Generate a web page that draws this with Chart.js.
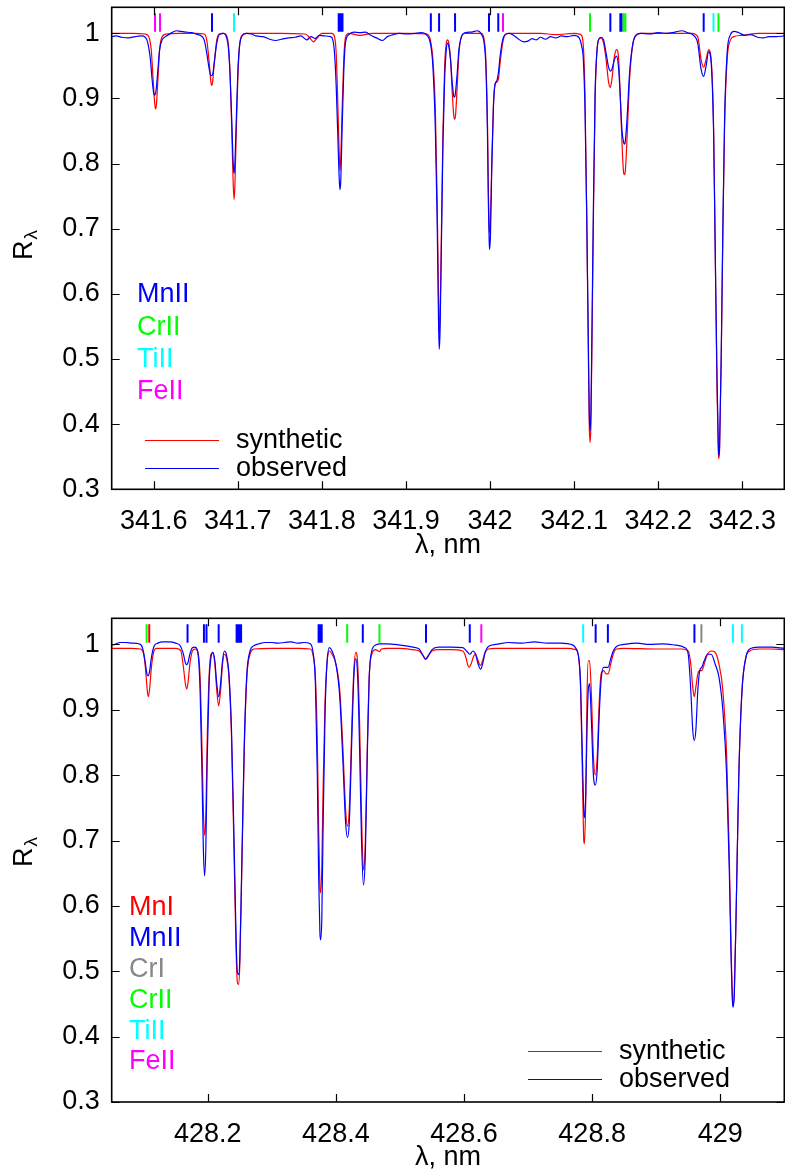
<!DOCTYPE html>
<html><head><meta charset="utf-8">
<script src="https://cdn.jsdelivr.net/npm/chart.js@4.4.1/dist/chart.umd.min.js"></script>
<style>
html,body{margin:0;padding:0;background:#fff;width:785px;height:1173px;overflow:hidden}
canvas{position:absolute;left:0}
</style></head>
<body>
<canvas id="c1" width="785" height="580" style="top:0;width:785px;height:580px"></canvas>
<canvas id="c2" width="785" height="593" style="top:580px;width:785px;height:593px"></canvas>
<script>
// ---------------- DATA ----------------
const yTicks = [0.3, 0.4, 0.5, 0.6, 0.7, 0.8, 0.9, 1.0];
const topXTicks = [341.6, 341.7, 341.8, 341.9, 342.0, 342.1, 342.2, 342.3];
const botXTicks = [428.2, 428.4, 428.6, 428.8, 429.0];

// top panel: synthetic spectrum [lambda nm, R]
const topSynthetic = [
[341.550,1.000],[341.560,1.000],[341.575,1.000],[341.590,0.999],[341.594,0.995],[341.597,0.975],[341.599,0.935],
[341.601,0.895],[341.602,0.884],[341.603,0.888],[341.605,0.930],[341.607,0.975],[341.610,0.995],[341.615,0.999],
[341.630,1.000],[341.650,1.000],[341.660,0.999],[341.663,0.990],[341.666,0.955],[341.668,0.925],[341.669,0.920],
[341.670,0.925],[341.672,0.955],[341.675,0.990],[341.678,0.999],[341.683,1.000],[341.686,0.998],[341.689,0.980],
[341.691,0.930],[341.693,0.840],[341.6945,0.770],[341.6955,0.745],[341.6965,0.765],[341.698,0.840],[341.700,0.930],
[341.702,0.980],[341.705,0.997],[341.710,1.000],[341.750,1.000],[341.780,0.999],[341.785,0.994],[341.790,0.987],
[341.795,0.994],[341.800,1.000],[341.812,1.000],[341.815,0.995],[341.817,0.970],[341.819,0.890],[341.8205,0.820],
[341.8215,0.789],[341.8225,0.810],[341.824,0.880],[341.826,0.960],[341.828,0.993],[341.832,1.000],[341.845,0.997],
[341.860,1.000],[341.900,1.000],[341.925,0.999],[341.929,0.990],[341.932,0.960],[341.935,0.880],[341.937,0.750],
[341.9385,0.620],[341.9395,0.540],[341.9405,0.560],[341.942,0.680],[341.944,0.850],[341.946,0.950],[341.948,0.985],
[341.9495,0.990],[341.951,0.985],[341.953,0.960],[341.955,0.910],[341.957,0.872],[341.958,0.868],[341.959,0.875],
[341.961,0.920],[341.963,0.970],[341.966,0.995],[341.970,1.000],[341.990,1.000],[341.993,0.990],[341.995,0.960],
[341.997,0.860],[341.998,0.760],[341.999,0.700],[341.9995,0.694],[342.0005,0.710],[342.002,0.800],[342.004,0.890],
[342.006,0.922],[342.008,0.925],[342.010,0.930],[342.012,0.955],[342.015,0.985],[342.018,0.998],[342.022,1.000],
[342.060,1.000],[342.078,0.998],[342.100,1.000],[342.108,0.998],[342.111,0.980],[342.113,0.900],[342.115,0.720],
[342.117,0.500],[342.118,0.400],[342.119,0.372],[342.120,0.400],[342.121,0.500],[342.123,0.720],[342.125,0.900],
[342.127,0.970],[342.129,0.990],[342.132,0.993],[342.135,0.985],[342.138,0.960],[342.141,0.925],[342.143,0.917],
[342.145,0.930],[342.148,0.965],[342.1505,0.975],[342.153,0.960],[342.155,0.900],[342.157,0.830],[342.159,0.785],
[342.160,0.783],[342.161,0.790],[342.163,0.840],[342.166,0.930],[342.170,0.985],[342.175,0.999],[342.180,1.000],
[342.240,1.000],[342.247,0.995],[342.251,0.960],[342.254,0.948],[342.257,0.960],[342.260,0.975],[342.263,0.960],
[342.266,0.850],[342.268,0.650],[342.270,0.450],[342.2715,0.360],[342.272,0.347],[342.273,0.360],[342.275,0.500],
[342.277,0.700],[342.279,0.860],[342.282,0.960],[342.286,0.990],[342.290,0.995],[342.300,0.997],[342.320,1.000],
[342.350,1.000]
];
// top panel: observed spectrum
const topObserved = [
[341.550,0.995],[341.555,0.996],[341.562,0.994],[341.570,0.993],[341.578,0.995],[341.585,0.996],[341.590,0.994],
[341.593,0.985],[341.596,0.960],[341.598,0.930],[341.600,0.908],[341.6015,0.905],[341.603,0.915],[341.605,0.945],
[341.607,0.975],[341.610,0.990],[341.614,0.995],[341.620,1.000],[341.627,1.004],[341.632,1.003],[341.638,1.002],
[341.645,1.001],[341.650,0.999],[341.655,0.997],[341.660,0.990],[341.663,0.970],[341.666,0.945],[341.668,0.935],
[341.670,0.937],[341.672,0.955],[341.675,0.985],[341.678,0.998],[341.683,1.000],[341.686,0.996],[341.689,0.975],
[341.691,0.930],[341.693,0.860],[341.6945,0.800],[341.6955,0.785],[341.6965,0.800],[341.698,0.860],[341.700,0.940],
[341.702,0.980],[341.705,0.996],[341.710,1.000],[341.716,0.999],[341.722,0.996],[341.730,0.995],[341.738,0.991],
[341.745,0.989],[341.752,0.991],[341.760,0.993],[341.768,0.994],[341.775,0.996],[341.782,0.990],[341.787,0.995],
[341.792,0.992],[341.797,0.997],[341.803,0.996],[341.810,0.995],[341.813,0.990],[341.815,0.970],[341.817,0.920],
[341.819,0.840],[341.8205,0.780],[341.8215,0.760],[341.8225,0.775],[341.824,0.850],[341.826,0.940],[341.828,0.985],
[341.832,0.998],[341.838,1.002],[341.845,1.001],[341.852,1.002],[341.858,0.997],[341.865,0.993],[341.872,0.989],
[341.878,0.995],[341.885,0.998],[341.892,1.000],[341.900,0.999],[341.910,1.000],[341.918,1.001],[341.925,0.997],
[341.929,0.985],[341.932,0.950],[341.935,0.850],[341.937,0.720],[341.9385,0.580],[341.9395,0.515],[341.9405,0.540],
[341.942,0.660],[341.944,0.830],[341.946,0.930],[341.948,0.975],[341.9495,0.985],[341.951,0.980],[341.953,0.960],
[341.955,0.925],[341.957,0.903],[341.958,0.902],[341.959,0.910],[341.961,0.940],[341.963,0.975],[341.966,0.995],
[341.970,1.001],[341.978,1.002],[341.985,1.004],[341.990,0.998],[341.993,0.985],[341.995,0.950],[341.997,0.840],
[341.998,0.740],[341.999,0.680],[341.9995,0.668],[342.0005,0.690],[342.002,0.790],[342.004,0.885],[342.006,0.922],
[342.008,0.927],[342.010,0.940],[342.012,0.965],[342.015,0.990],[342.018,0.998],[342.022,1.000],[342.027,0.998],
[342.033,0.992],[342.040,0.987],[342.045,0.988],[342.050,0.992],[342.055,0.990],[342.060,0.994],[342.066,0.991],
[342.072,0.995],[342.078,0.993],[342.085,0.996],[342.092,0.995],[342.100,0.997],[342.106,0.993],[342.109,0.980],
[342.111,0.960],[342.113,0.880],[342.115,0.720],[342.117,0.520],[342.118,0.420],[342.119,0.390],[342.120,0.420],
[342.121,0.520],[342.123,0.740],[342.125,0.910],[342.127,0.970],[342.129,0.990],[342.132,0.994],[342.135,0.990],
[342.138,0.970],[342.141,0.948],[342.143,0.942],[342.145,0.945],[342.148,0.960],[342.1505,0.965],[342.153,0.945],
[342.155,0.900],[342.157,0.850],[342.159,0.832],[342.160,0.830],[342.161,0.835],[342.163,0.870],[342.166,0.940],
[342.170,0.985],[342.175,0.998],[342.180,1.000],[342.190,0.999],[342.200,1.001],[342.210,1.000],[342.220,1.002],
[342.228,1.004],[342.235,1.001],[342.242,0.997],[342.247,0.985],[342.251,0.945],[342.254,0.934],[342.257,0.950],
[342.260,0.972],[342.263,0.955],[342.266,0.840],[342.268,0.650],[342.270,0.470],[342.2715,0.370],[342.272,0.352],
[342.273,0.365],[342.275,0.510],[342.277,0.710],[342.279,0.870],[342.282,0.970],[342.286,0.998],[342.290,1.003],
[342.296,1.001],[342.303,0.997],[342.310,0.998],[342.318,0.994],[342.325,0.993],[342.332,0.995],[342.340,0.995],
[342.350,0.996]
];
// bottom panel: synthetic spectrum
const botSynthetic = [
[428.050,0.994],[428.080,0.994],[428.095,0.993],[428.100,0.985],[428.103,0.960],[428.105,0.935],[428.107,0.920],
[428.109,0.930],[428.112,0.965],[428.116,0.990],[428.120,0.994],[428.150,0.994],[428.158,0.990],[428.162,0.965],
[428.165,0.940],[428.167,0.932],[428.169,0.940],[428.172,0.970],[428.176,0.990],[428.180,0.993],[428.184,0.990],
[428.188,0.950],[428.191,0.840],[428.193,0.750],[428.195,0.708],[428.197,0.740],[428.199,0.850],[428.202,0.950],
[428.205,0.985],[428.208,0.987],[428.211,0.970],[428.214,0.930],[428.217,0.906],[428.220,0.930],[428.223,0.970],
[428.226,0.985],[428.229,0.980],[428.233,0.950],[428.237,0.860],[428.241,0.680],[428.244,0.540],[428.246,0.485],
[428.248,0.480],[428.250,0.510],[428.253,0.650],[428.257,0.840],[428.261,0.950],[428.266,0.985],[428.272,0.993],
[428.300,0.994],[428.340,0.994],[428.360,0.993],[428.364,0.985],[428.368,0.950],[428.371,0.850],[428.373,0.720],
[428.375,0.630],[428.376,0.620],[428.378,0.660],[428.380,0.780],[428.383,0.910],[428.386,0.970],[428.390,0.990],
[428.394,0.985],[428.400,0.970],[428.406,0.930],[428.411,0.840],[428.415,0.750],[428.418,0.722],[428.421,0.750],
[428.425,0.880],[428.428,0.960],[428.431,0.988],[428.434,0.970],[428.437,0.880],[428.440,0.740],[428.443,0.655],
[428.446,0.700],[428.449,0.840],[428.452,0.950],[428.456,0.985],[428.462,0.992],[428.466,0.990],[428.468,0.989],
[428.471,0.993],[428.480,0.994],[428.500,0.994],[428.520,0.992],[428.530,0.990],[428.536,0.983],[428.540,0.978],
[428.544,0.983],[428.550,0.990],[428.560,0.992],[428.580,0.992],[428.598,0.990],[428.603,0.980],[428.606,0.968],
[428.608,0.965],[428.611,0.970],[428.615,0.982],[428.618,0.985],[428.621,0.978],[428.624,0.970],[428.626,0.968],
[428.629,0.975],[428.633,0.988],[428.638,0.993],[428.650,0.994],[428.700,0.994],[428.760,0.994],[428.774,0.992],
[428.779,0.980],[428.782,0.930],[428.785,0.790],[428.787,0.700],[428.788,0.695],[428.790,0.760],[428.792,0.920],
[428.794,0.975],[428.796,0.975],[428.799,0.920],[428.802,0.830],[428.805,0.800],[428.808,0.830],[428.811,0.910],
[428.814,0.955],[428.818,0.960],[428.822,0.955],[428.825,0.955],[428.829,0.970],[428.833,0.985],[428.838,0.993],
[428.850,0.994],[428.900,0.993],[428.940,0.993],[428.950,0.990],[428.954,0.970],[428.957,0.935],[428.9595,0.920],
[428.962,0.935],[428.965,0.955],[428.968,0.960],[428.971,0.960],[428.975,0.970],[428.980,0.985],[428.986,0.990],
[428.992,0.988],[428.998,0.970],[429.004,0.930],[429.010,0.830],[429.014,0.680],[429.017,0.530],[429.019,0.460],
[429.020,0.448],[429.022,0.470],[429.025,0.600],[429.029,0.800],[429.034,0.930],[429.040,0.980],[429.046,0.990],
[429.060,0.993],[429.080,0.993],[429.100,0.992]
];
// bottom panel: observed spectrum
const botObserved = [
[428.050,0.999],[428.055,1.000],[428.063,1.003],[428.072,1.003],[428.082,1.002],[428.092,1.001],[428.098,0.995],
[428.102,0.975],[428.105,0.955],[428.107,0.952],[428.109,0.958],[428.112,0.980],[428.116,0.997],[428.122,1.002],
[428.130,1.004],[428.140,1.004],[428.150,1.002],[428.157,0.998],[428.162,0.985],[428.165,0.972],[428.167,0.969],
[428.169,0.972],[428.172,0.985],[428.176,0.995],[428.180,0.996],[428.184,0.990],[428.188,0.930],[428.191,0.800],
[428.193,0.690],[428.195,0.646],[428.197,0.690],[428.199,0.820],[428.202,0.940],[428.205,0.980],[428.208,0.988],
[428.211,0.975],[428.214,0.940],[428.217,0.920],[428.220,0.940],[428.223,0.975],[428.226,0.990],[428.229,0.985],
[428.233,0.955],[428.237,0.870],[428.241,0.700],[428.244,0.560],[428.246,0.500],[428.248,0.495],[428.250,0.520],
[428.253,0.660],[428.257,0.850],[428.261,0.955],[428.266,0.990],[428.272,0.998],[428.280,1.001],[428.290,1.003],
[428.300,1.003],[428.310,1.002],[428.320,1.003],[428.330,1.004],[428.340,1.002],[428.350,1.003],[428.360,1.001],
[428.364,0.990],[428.368,0.940],[428.371,0.800],[428.373,0.650],[428.375,0.560],[428.376,0.548],[428.378,0.580],
[428.380,0.720],[428.383,0.890],[428.386,0.970],[428.390,0.995],[428.394,0.990],[428.400,0.970],[428.406,0.920],
[428.411,0.820],[428.415,0.730],[428.418,0.705],[428.421,0.730],[428.425,0.860],[428.428,0.950],[428.431,0.978],
[428.434,0.950],[428.437,0.840],[428.440,0.700],[428.443,0.632],[428.446,0.680],[428.449,0.830],[428.452,0.950],
[428.456,0.990],[428.462,0.999],[428.470,1.001],[428.480,1.001],[428.500,0.999],[428.520,0.996],[428.530,0.993],
[428.536,0.983],[428.540,0.977],[428.544,0.982],[428.550,0.992],[428.560,0.996],[428.580,0.996],[428.598,0.995],
[428.604,0.990],[428.609,0.985],[428.614,0.990],[428.618,0.985],[428.622,0.970],[428.626,0.962],[428.629,0.970],
[428.633,0.988],[428.638,0.997],[428.650,1.000],[428.670,1.003],[428.690,1.002],[428.710,1.004],[428.730,1.002],
[428.750,1.002],[428.770,0.999],[428.774,0.995],[428.779,0.980],[428.782,0.940],[428.785,0.820],[428.787,0.745],
[428.788,0.735],[428.790,0.770],[428.792,0.870],[428.794,0.930],[428.796,0.940],[428.799,0.880],[428.802,0.800],
[428.805,0.785],[428.808,0.810],[428.811,0.890],[428.814,0.945],[428.818,0.965],[428.822,0.965],[428.825,0.965],
[428.829,0.978],[428.833,0.990],[428.838,0.997],[428.850,1.000],[428.870,1.002],[428.890,1.000],[428.910,1.001],
[428.930,0.999],[428.945,0.995],[428.950,0.985],[428.954,0.930],[428.957,0.870],[428.9595,0.853],[428.962,0.870],
[428.965,0.930],[428.968,0.960],[428.971,0.965],[428.975,0.975],[428.980,0.985],[428.986,0.985],[428.992,0.970],
[428.998,0.950],[429.004,0.900],[429.010,0.800],[429.014,0.660],[429.017,0.520],[429.019,0.455],[429.020,0.445],
[429.022,0.465],[429.025,0.600],[429.029,0.800],[429.034,0.930],[429.040,0.980],[429.046,0.993],[429.060,0.996],
[429.080,0.996],[429.100,0.994]
];

// line identification marks (wavelengths, nm)
const topMnII = [341.6693, 341.8200, 341.8215, 341.8230, 341.8245, 341.9296, 341.9394, 341.9584, 341.9988, 342.0098, 342.1431, 342.1550, 342.1562, 342.2541];
const topCrII = [342.1189, 342.1585, 342.1610, 342.2717];
const topTiII = [341.6955, 342.2658];
const topFeII = [341.6015, 341.6075, 342.0154];

const botMnI  = [428.1086];
const botMnII = [428.1684, 428.1940, 428.1980, 428.2170, 428.2450, 428.2468, 428.2486, 428.2504, 428.2520, 428.3730, 428.3746, 428.3762, 428.3778, 428.4420, 428.5407, 428.6090, 428.8055, 428.8246, 428.9597];
const botCrI  = [428.9706];
const botCrII = [428.1045, 428.4176, 428.4680];
const botTiII = [428.7860, 429.0198, 429.0338];
const botFeII = [428.6270];

const topElements = ['MnII', 'CrII', 'TiII', 'FeII'];
const botElements = ['MnI', 'MnII', 'CrI', 'CrII', 'TiII', 'FeII'];
const seriesNames = ['synthetic', 'observed'];

// ---------------- STYLE ----------------
const COL = {MnI:'#ff0000', MnII:'#0000ff', CrI:'#888888', CrII:'#00ff00', TiII:'#00ffff', FeII:'#ff00ff'};
const FONT = '"Liberation Sans", Arial, Helvetica, sans-serif';
Chart.defaults.font.family = FONT;
Chart.defaults.font.size = 27;
Chart.defaults.color = '#000';

const MARK_LO = 1.0025, MARK_HI = 1.031;
function toXY(arr){ return arr.map(p => ({x:p[0], y:p[1]})); }
function marks(list){ const o=[]; list.forEach(w => { o.push({x:w,y:MARK_LO},{x:w,y:MARK_HI},{x:w,y:null}); }); return o; }
function fmt(v){ return String(parseFloat(Number(v).toFixed(3))); }

const framePlugin = {
  id: 'frame',
  afterDraw(chart, args, o) {
    const {ctx, chartArea: a} = chart;
    const xs = chart.scales.x, ys = chart.scales.y;
    ctx.save();
    // inward ticks
    ctx.strokeStyle = '#000'; ctx.lineWidth = 1.2;
    ctx.beginPath();
    xs.ticks.forEach(t => { const px = Math.round(xs.getPixelForValue(t.value)) + 0.5;
      ctx.moveTo(px, a.bottom); ctx.lineTo(px, a.bottom - 8); ctx.moveTo(px, a.top); ctx.lineTo(px, a.top + 8); });
    ys.ticks.forEach(t => { const py = Math.round(ys.getPixelForValue(t.value)) + 0.5;
      ctx.moveTo(a.left, py); ctx.lineTo(a.left + 8, py); ctx.moveTo(a.right, py); ctx.lineTo(a.right - 8, py); });
    ctx.stroke();
    ctx.lineWidth = 1.6;
    ctx.strokeRect(a.left, a.top, a.right - a.left, a.bottom - a.top);
    // element labels
    ctx.font = '27px ' + FONT; ctx.textAlign = 'left'; ctx.textBaseline = 'middle';
    o.elements.forEach((e, i) => { ctx.fillStyle = COL[e]; ctx.fillText(e, o.elX, o.elY + i * o.elDy); });
    // series legend
    const lc = ['#ff0000', '#0000ff'];
    seriesNames.forEach((n, i) => {
      const y = o.lgY + i * o.lgDy;
      ctx.strokeStyle = lc[i]; ctx.lineWidth = 1;
      ctx.beginPath(); ctx.moveTo(o.lgX, y + 0.5); ctx.lineTo(o.lgX + 74, y + 0.5); ctx.stroke();
      ctx.fillStyle = '#000'; ctx.fillText(n, o.lgX + 91, y + 1);
    });
    // x title
    ctx.textAlign = 'center'; ctx.fillStyle = '#000';
    ctx.fillText('λ, nm', (a.left + a.right) / 2, o.xtY);
    // y title R_lambda
    ctx.translate(o.ytX, o.ytY); ctx.rotate(-Math.PI / 2);
    ctx.textAlign = 'left'; ctx.textBaseline = 'alphabetic';
    ctx.font = '27px ' + FONT; ctx.fillText('R', 0, 0);
    const w = ctx.measureText('R').width;
    ctx.font = '19px ' + FONT; ctx.fillText('λ', w + 1, 5);
    ctx.restore();
  }
};

function makeChart(id, cfg) {
  const ds = [
    {data: toXY(cfg.syn), borderColor:'#ff0000', borderWidth:1.2, pointRadius:0, cubicInterpolationMode:'monotone', order:2},
    {data: toXY(cfg.obs), borderColor:'#0000ff', borderWidth:1.2, pointRadius:0, cubicInterpolationMode:'monotone', order:1}
  ];
  cfg.marks.forEach(m => ds.push({data: marks(m.list), borderColor: COL[m.el], borderWidth: 2, pointRadius: 0, spanGaps: false, tension: 0, order: 0}));
  return new Chart(document.getElementById(id), {
    type: 'line',
    data: {datasets: ds},
    options: {
      responsive: false, animation: false, events: [], devicePixelRatio: 1,
      layout: {padding: {left: 0, right: 0.7, top: cfg.padTop, bottom: 0}},
      plugins: {legend: {display: false}, tooltip: {enabled: false}, frame: cfg.frame},
      scales: {
        x: {type: 'linear', min: cfg.xmin, max: cfg.xmax,
            grid: {display: false, drawTicks: false}, border: {display: false},
            ticks: {padding: 16, maxRotation: 0, autoSkip: false, callback: fmt},
            afterBuildTicks: s => { s.ticks = cfg.xticks.map(v => ({value: v})); },
            afterFit: s => { s.height = cfg.xh; s.paddingLeft = 0; s.paddingRight = 0; }},
        y: {type: 'linear', min: 0.3, max: 1.04,
            grid: {display: false, drawTicks: false}, border: {display: false},
            ticks: {padding: 12, autoSkip: false, callback: fmt},
            afterBuildTicks: s => { s.ticks = yTicks.map(v => ({value: v})); },
            afterFit: s => { s.width = 111.7; s.paddingTop = 0; s.paddingBottom = 0; }}
      }
    },
    plugins: [framePlugin]
  });
}

makeChart('c1', {
  syn: topSynthetic, obs: topObserved, xmin: 341.55, xmax: 342.35, xticks: topXTicks,
  padTop: 7.3, xh: 580 - 489.3,
  marks: [{el:'MnII', list: topMnII}, {el:'CrII', list: topCrII}, {el:'TiII', list: topTiII}, {el:'FeII', list: topFeII}],
  frame: {elements: topElements, elX: 137, elY: 295, elDy: 32.3, lgX: 145, lgY: 440, lgDy: 28, xtY: 546, ytX: 32, ytY: 260}
});
makeChart('c2', {
  syn: botSynthetic, obs: botObserved, xmin: 428.05, xmax: 429.1, xticks: botXTicks,
  padTop: 38.3, xh: 593 - 522,
  marks: [{el:'MnI', list: botMnI}, {el:'MnII', list: botMnII}, {el:'CrI', list: botCrI}, {el:'CrII', list: botCrII}, {el:'TiII', list: botTiII}, {el:'FeII', list: botFeII}],
  frame: {elements: botElements, elX: 129, elY: 908 - 580, elDy: 30.8, lgX: 528, lgY: 1051 - 580, lgDy: 28, xtY: 1158 - 580, ytX: 32, ytY: 867 - 580}
});
</script>
</body></html>
